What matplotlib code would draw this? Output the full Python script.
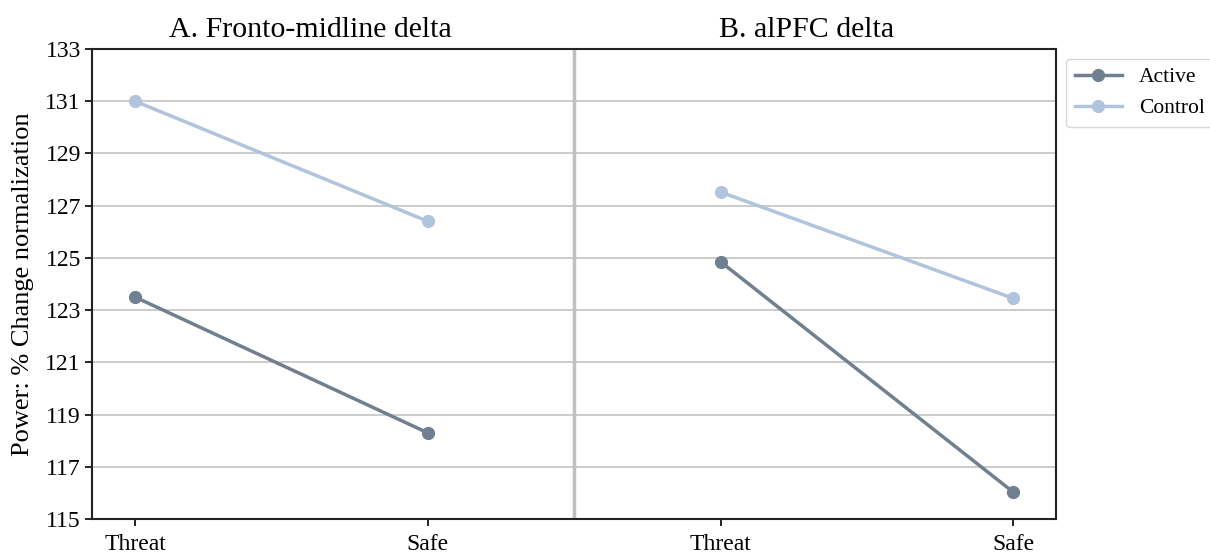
import matplotlib
matplotlib.use("Agg")
import matplotlib.pyplot as plt

# condition order on the shared x axis: panel A then panel B
conditions = ["Threat", "Safe", "Threat", "Safe"]
panel_titles = ["A. Fronto-midline delta", "B. alPFC delta"]

active_a = [123.5, 118.3]
control_a = [131.0, 126.4]
active_b = [124.85, 116.03]
control_b = [127.52, 123.45]

active_color = "#708090"
control_color = "#b0c4de"

plt.rcParams["font.family"] = ["Liberation Serif", "DejaVu Serif"]

fig = plt.figure(figsize=(12.1, 5.56), dpi=100)
ax = fig.add_axes([0.076, 0.0665, 0.797, 0.8455])

ax.plot([0, 1], active_a, color=active_color, marker="o", lw=2.5, ms=8.5, label="Active")
ax.plot([0, 1], control_a, color=control_color, marker="o", lw=2.5, ms=8.5, label="Control")
ax.plot([2, 3], active_b, color=active_color, marker="o", lw=2.5, ms=8.5)
ax.plot([2, 3], control_b, color=control_color, marker="o", lw=2.5, ms=8.5)

# divider between the two panels
ax.axvline(1.5, color="#c0c0c0", lw=2.5, zorder=1)

ax.set_xlim(-0.147, 3.147)
ax.set_ylim(115, 133)
ax.set_yticks(range(115, 134, 2))
ax.set_xticks(range(4))
ax.set_xticklabels(conditions)
ax.tick_params(labelsize=17, length=5, width=1.2, color="black", pad=3)
ax.tick_params(axis="x", pad=6)
ax.grid(axis="y", color="#c8c8c8", lw=1.3)
ax.set_axisbelow(True)
for sp in ax.spines.values():
    sp.set_linewidth(1.5)
    sp.set_color("#222222")

ax.set_ylabel("Power: % Change normalization", fontsize=19, labelpad=8)

# panel titles
ax.text(0.2270, 1.0135, panel_titles[0], transform=ax.transAxes, ha="center", va="bottom", fontsize=21.5)
ax.text(0.7415, 1.0135, panel_titles[1], transform=ax.transAxes, ha="center", va="bottom", fontsize=21.5)

ax.legend(loc="upper left", bbox_to_anchor=(1.01, 0.979), fontsize=15.5, frameon=True,
          borderaxespad=0, handlelength=2.2, labelspacing=0.5)

fig.savefig("out.png", dpi=100)
